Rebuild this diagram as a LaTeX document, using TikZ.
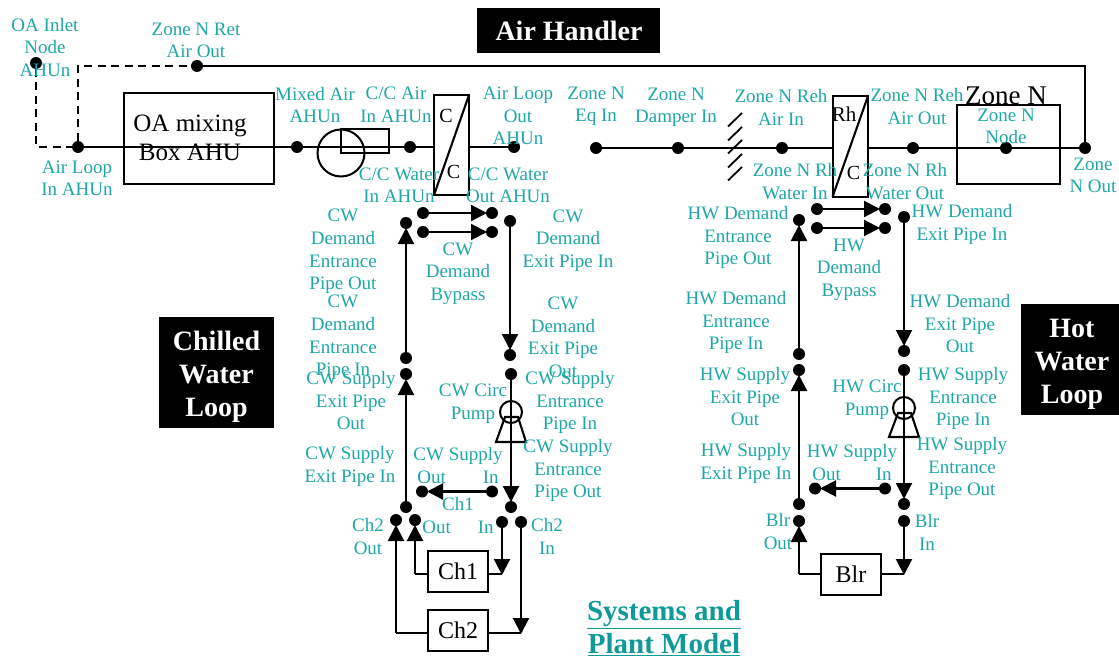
\documentclass[tikz,border=0pt]{standalone}
\usepackage{fontspec}
\setmainfont{Liberation Serif}
\usetikzlibrary{arrows.meta}
\definecolor{labteal}{HTML}{1FA7A7}
\definecolor{headteal}{HTML}{0E9A96}
\tikzset{
  dotn/.style={circle,fill=black,draw=none,minimum size=12pt,inner sep=0pt,outer sep=0pt},
  lab/.style={text=labteal,align=center,inner sep=0pt,yshift=-1.5pt,font=\fontsize{19}{22.6}\selectfont},
  blk/.style={text=black,align=center,inner sep=0pt},
  bx/.style={draw=black,line width=2pt,inner sep=0pt,outer sep=0pt},
  pipe/.style={draw=black,line width=2.1pt},
  apipe/.style={pipe,-{Triangle[width=16pt,length=16pt]},shorten >=-1pt},
  dsh/.style={draw=black,line width=2pt,dash pattern=on 8pt off 5.5pt},
  titlebox/.style={fill=black,inner sep=0pt},
  title/.style={text=white,align=center,inner sep=0pt,font=\fontsize{28}{33}\selectfont\bfseries},
}
\newcommand{\dt}[2]{\node[dotn] (#1) at (#2) {};}
\newcommand{\lb}[3]{\node[lab] (#1) at (#2) {#3};}
\begin{document}
\begin{tikzpicture}[x=1pt,y=-1pt]
\useasboundingbox (0,0) rectangle (1119,658);
% title boxes
\node[titlebox,minimum width=183pt,minimum height=45pt] (bah) at (568.5,30.5) {};
\node[titlebox,minimum width=115pt,minimum height=111pt] (bcw) at (216.5,372.5) {};
\node[titlebox,minimum width=98pt,minimum height=111pt] (bhw) at (1070,359.5) {};
\node[title] (tah) at (569,30.5) {Air Handler};
\node[title] (tcw) at (216.5,376.5) {Chilled\\Water\\Loop};
\node[title] (thw) at (1072,364.5) {Hot\\Water\\Loop};
% air dots
\dt{oain}{36,63}
\dt{ret}{197,66}
\dt{airin}{78,147}
\dt{mixed}{297,147}
\dt{ccin}{410,147}
\dt{airout}{514,147}
\dt{eqin}{596,148}
\dt{dampin}{678,148}
\dt{rehin}{782,148}
\dt{rehout}{913,148}
\dt{znode}{1006,148}
\dt{zout}{1085,148}
\coordinate (dc) at (78,66);
\coordinate (dd) at (36,147);
% air components
\node[bx,minimum width=150pt,minimum height=91pt] (oabox) at (199,138.5) {};
\node[bx,circle,minimum size=47pt] (fan) at (341,153) {};
\node[bx,minimum width=48pt,minimum height=24pt] (fanbox) at (365,141) {};
\node[bx,minimum width=35pt,minimum height=100pt] (coil) at (451.5,145) {};
\node[bx,minimum width=35.5pt,minimum height=101pt] (rh) at (850.25,146.5) {};
\node[bx,minimum width=103pt,minimum height=79pt] (zbox) at (1008.5,144.5) {};
\draw[pipe] (coil.south west) -- (coil.north east);
\draw[pipe] (rh.south west) -- (rh.north east);
% air pipes
\draw[pipe] (airin) -- (mixed);
\draw[pipe] (mixed) -- (ccin);
\draw[pipe] (ccin) -- (coil.west |- ccin);
\draw[pipe] (coil.east |- airout) -- (airout);
\draw[pipe] (eqin) -- (dampin);
\draw[pipe] (dampin) -- (rehin);
\draw[pipe] (rehin) -- (rh.west |- rehin);
\draw[pipe] (rh.east |- rehout) -- (rehout);
\draw[pipe] (rehout) -- (znode);
\draw[pipe] (znode) -- (zout);
\draw[pipe] (ret) -| (zout);
\draw[dsh] (oain) -- (dd) -- (airin);
\draw[dsh] (airin) -- (dc) -- (ret);
% damper
\foreach \yy in {113,127,140,154,167}
  \draw[pipe,line width=1.8pt] (728,\yy+13.5) -- (742,\yy);
% chilled water loop dots
\dt{cb1l}{423,213}
\dt{cb1r}{492,213}
\dt{cb2l}{423,232}
\dt{cb2r}{492,232}
\dt{cdlt}{406,223}
\dt{cdlb}{406,358}
\dt{cdrt}{510,221}
\dt{cdrb}{510,355}
\dt{cslt}{406,374}
\dt{csrt}{511,374}
\dt{csin}{492,491.5}
\dt{csout}{422,491.5}
\dt{cslb}{406,507}
\dt{csrb}{511,507}
\dt{ch2o}{396,520}
\dt{ch1o}{415,520}
\dt{ch1i}{502,522}
\dt{ch2i}{521,522}
\node[bx,minimum width=60pt,minimum height=41pt,font=\fontsize{24}{28}\selectfont] (ch1) at (458,571.5) {Ch1};
\node[bx,minimum width=60pt,minimum height=41pt,font=\fontsize{24}{28}\selectfont] (ch2) at (458,630.5) {Ch2};
\coordinate (c1l) at (415,574);
\coordinate (c1r) at (502,574);
\coordinate (c2l) at (396,633);
\coordinate (c2r) at (521,633);
\draw[apipe] (cb1l) -- (cb1r);
\draw[apipe] (cb2l) -- (cb2r);
\draw[apipe] (cdlb) -- (cdlt);
\draw[apipe] (cdrt) -- (cdrb);
\draw[apipe] (cslb) -- (cslt);
\draw[apipe] (csrt) -- (csrb);
\draw[apipe] (csin) -- (csout);
\draw[pipe] (ch1.west |- c1l) -- (c1l);
\draw[apipe] (c1l) -- (ch1o);
\draw[pipe] (ch1.east |- c1r) -- (c1r);
\draw[apipe] (ch1i) -- (c1r);
\draw[pipe] (ch2.west |- c2l) -- (c2l);
\draw[apipe] (c2l) -- (ch2o);
\draw[pipe] (ch2.east |- c2r) -- (c2r);
\draw[apipe] (ch2i) -- (c2r);
% chilled pump
\node[bx,circle,minimum size=22pt] (cpump) at (511,412) {};
\draw[pipe] (505,417) -- (518,417) -- (526,442) -- (496,442) -- cycle;
% hot water loop dots
\dt{hb1l}{817,209}
\dt{hb1r}{885,209}
\dt{hb2l}{817,228}
\dt{hb2r}{885,228}
\dt{hdlt}{799,220}
\dt{hdlb}{799,354}
\dt{hdrt}{904,217}
\dt{hdrb}{904,351}
\dt{hslt}{799,370}
\dt{hsrt}{904,370}
\dt{hsin}{885,488.5}
\dt{hsout}{815,488.5}
\dt{hslb}{799,504}
\dt{hsrb}{904,504}
\dt{blo}{799,521}
\dt{bli}{904,521}
\node[bx,minimum width=60pt,minimum height=41pt,font=\fontsize{24}{28}\selectfont] (blr) at (851,574.5) {Blr};
\coordinate (bl) at (799,574);
\coordinate (br) at (904,574);
\draw[apipe] (hb1l) -- (hb1r);
\draw[apipe] (hb2l) -- (hb2r);
\draw[apipe] (hdlb) -- (hdlt);
\draw[apipe] (hdrt) -- (hdrb);
\draw[apipe] (hslb) -- (hslt);
\draw[apipe] (hsrt) -- (hsrb);
\draw[apipe] (hsin) -- (hsout);
\draw[pipe] (blr.west |- bl) -- (bl);
\draw[apipe] (bl) -- (blo);
\draw[pipe] (blr.east |- br) -- (br);
\draw[apipe] (bli) -- (br);
\node[bx,circle,minimum size=22pt] (hpump) at (904,408) {};
\draw[pipe] (898,413) -- (911,413) -- (919,437) -- (889,437) -- cycle;
% black text
\node[blk,font=\fontsize{25}{29}\selectfont] (toa) at (190,137.5) {OA mixing\\Box AHU};
\node[blk,font=\fontsize{20}{24}\selectfont] (tc1) at (446,116) {C};
\node[blk,font=\fontsize{20}{24}\selectfont] (tc2) at (453.5,172) {C};
\node[blk,font=\fontsize{21}{24}\selectfont] (trh) at (844,114) {Rh};
\node[blk,font=\fontsize{20}{24}\selectfont] (tc3) at (853.5,173) {C};
\node[blk,font=\fontsize{27}{30}\selectfont] (tzn) at (1006,96) {Zone N};
% teal labels
\lb{l1}{45,46}{OA Inlet\\Node\\AHUn}
\lb{l2}{196,39}{Zone N Ret\\Air Out}
\lb{l3}{77,177}{Air Loop\\In AHUn}
\lb{l4}{315,103.5}{Mixed Air\\AHUn}
\lb{l5}{396,103.5}{C/C Air\\In AHUn}
\lb{l6}{518,114.5}{Air Loop\\Out\\AHUn}
\lb{l7}{399,184}{C/C Water\\In AHUn}
\lb{l8}{508,184}{C/C Water\\Out AHUn}
\lb{l9}{596,105}{Zone N\\Eq In}
\lb{l10}{676,106}{Zone N\\Damper In}
\lb{l11}{781,106}{Zone N Reh\\Air In}
\lb{l12}{917,105}{Zone N Reh\\Air Out}
\lb{l13}{1006,125}{Zone N\\Node}
\lb{l14}{1093,174}{Zone\\N Out}
\lb{l15}{795,180}{Zone N Rh\\Water In}
\lb{l16}{905,180}{Zone N Rh\\Water Out}
\lb{l17}{343,250}{CW\\Demand\\Entrance\\Pipe Out}
\lb{l18}{343,336}{CW\\Demand\\Entrance\\Pipe In}
\lb{l19}{458,272}{CW\\Demand\\Bypass}
\lb{l20}{568,239}{CW\\Demand\\Exit Pipe In}
\lb{l21}{563,336}{CW\\Demand\\Exit Pipe\\Out}
\lb{l22}{351,399}{CW Supply\\Exit Pipe\\Out}
\lb{l23}{570,401}{CW Supply\\Entrance\\Pipe In}
\lb{l24}{473,402}{CW Circ\\Pump}
\lb{l25}{350,465}{CW Supply\\Exit Pipe In}
\lb{l26}{458,464}{CW Supply\\Out\hspace{37pt}In}
\lb{l27}{458,514}{Ch1\\Out\hspace{27pt}In}
\lb{l28}{368,535}{Ch2\\Out}
\lb{l29}{547,535}{Ch2\\In}
\lb{l30}{568,469}{CW Supply\\Entrance\\Pipe Out}
\lb{l31}{738,236}{HW Demand\\Entrance\\Pipe Out}
\lb{l32}{736,321}{HW Demand\\Entrance\\Pipe In}
\lb{l33}{849,268}{HW\\Demand\\Bypass}
\lb{l34}{962,223}{HW Demand\\Exit Pipe In}
\lb{l35}{960,322}{HW Demand\\Exit Pipe\\Out}
\lb{l36}{745,395}{HW Supply\\Exit Pipe\\Out}
\lb{l37}{963,397}{HW Supply\\Entrance\\Pipe In}
\lb{l38}{867,398}{HW Circ\\Pump}
\lb{l39}{746,462}{HW Supply\\Exit Pipe In}
\lb{l40}{852,461}{HW Supply\\Out\hspace{35pt}In}
\lb{l41}{962,467}{HW Supply\\Entrance\\Pipe Out}
\lb{l42}{778,530}{Blr\\Out}
\lb{l43}{927,531}{Blr\\In}
\node[text=headteal,align=center,inner sep=0pt,font=\fontsize{29}{33}\selectfont\bfseries] (sys) at (664,628.5) {\underline{Systems and}\\\underline{Plant Model}};
\end{tikzpicture}
\end{document}
